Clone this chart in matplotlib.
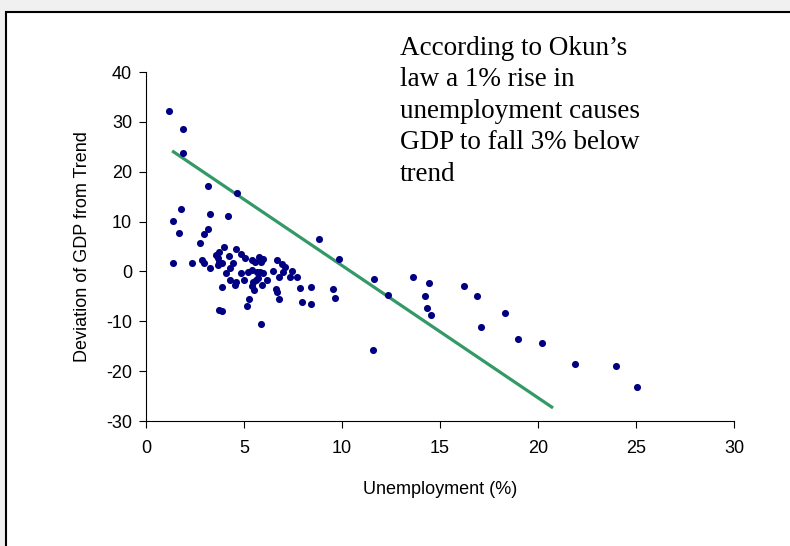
"""
Okun's law scatter: deviation of GDP from trend vs unemployment.
"""
import matplotlib
matplotlib.use("Agg")
import matplotlib.pyplot as plt
from matplotlib.patches import Rectangle

# --- Data ---
unemployment = [
    1.19, 1.87, 1.87, 3.15, 4.66, 1.79, 1.39, 3.27, 4.17, 1.70,
    3.16, 2.96, 2.76, 3.96, 4.58, 1.39, 2.36, 2.86, 2.96, 3.28,
    3.57, 3.74, 3.66, 3.88, 3.74, 4.25, 4.86, 5.04, 4.44, 4.29,
    4.07, 4.86, 4.27, 4.58, 5.02, 5.22, 5.39, 5.56, 5.75, 5.98,
    5.41, 5.65, 5.47, 5.39, 5.49, 5.98, 6.16, 3.88, 5.24, 5.14,
    3.74, 3.88, 5.87, 8.83, 9.85, 11.62, 5.85, 5.61, 6.46, 6.67,
    6.94, 7.11, 7.01, 6.77, 7.46, 7.35, 7.69, 7.86, 8.42, 6.65,
    6.67, 6.77, 7.96, 8.42, 9.54, 9.66, 11.58, 12.33, 13.61, 14.42,
    14.23, 14.32, 14.53, 16.22, 16.90, 18.30, 17.09, 19.00, 20.18, 21.87,
    23.96, 25.07, 3.69, 5.82, 5.73, 5.90, 4.54,
]
gdp_dev = [
    32.1, 28.6, 23.8, 17.2, 15.7, 12.5, 10.2, 11.5, 11.1, 7.8,
    8.6, 7.5, 5.7, 4.9, 4.4, 1.6, 1.6, 2.2, 1.7, 0.7,
    3.3, 3.8, 2.6, 1.7, 1.9, 3.0, 3.4, 2.7, 1.7, 0.7,
    -0.4, -0.4, -1.7, -2.1, -1.7, -0.2, 2.3, 1.9, 2.9, 2.5,
    0.3, -0.2, -2.1, -2.9, -3.7, -0.4, -1.7, -3.1, -5.5, -7.0,
    -7.7, -8.0, -10.6, 6.6, 2.5, -1.5, 1.9, -1.7, 0.0, 2.3,
    1.4, 0.8, -0.2, -1.2, 0.1, -1.1, -1.1, -3.3, -3.1, -3.5,
    -4.2, -5.6, -6.1, -6.6, -3.6, -5.3, -15.7, -4.7, -1.2, -2.4,
    -4.9, -7.4, -8.8, -2.9, -4.9, -8.3, -11.1, -13.6, -14.3, -18.6,
    -19.0, -23.2, 1.3, -0.1, -1.4, -2.7, -2.7,
]

# fitted line (end points)
fit_x = [1.4, 20.7]
fit_y = [24.0, -27.2]

x_ticks = [0, 5, 10, 15, 20, 25, 30]
y_ticks = [-30, -20, -10, 0, 10, 20, 30, 40]

note = "According to Okun\u2019s\nlaw a 1% rise in\nunemployment causes\nGDP to fall 3% below\ntrend"

plt.rcParams["font.family"] = ["Liberation Sans", "DejaVu Sans"]
plt.rcParams["axes.unicode_minus"] = False

fig = plt.figure(figsize=(7.9, 5.46), dpi=100, facecolor="#f0f0f0")

# white panel with black frame (clipped at right/bottom)
fig.patches.append(Rectangle((6 / 790, -0.02), 1.05, 1 - 12 / 546 + 0.02,
                             transform=fig.transFigure, facecolor="white",
                             edgecolor="black", linewidth=1.5, zorder=-5))

ax = fig.add_axes([146 / 790, 1 - 421 / 546, (734 - 146) / 790, (421 - 72) / 546])
ax.set_zorder(2)
ax.set_facecolor("none")

ax.scatter(unemployment, gdp_dev, s=26, color="#000080", zorder=3, linewidths=0)
ax.plot(fit_x, fit_y, color="#339966", linewidth=2.3, zorder=2)

ax.set_xlim(0, 30)
ax.set_ylim(-30, 40)
ax.set_xticks(x_ticks)
ax.set_yticks(y_ticks)
ax.tick_params(direction="out", length=5, width=0.8, labelsize=13, colors="black")
ax.tick_params(axis="x", pad=9)
ax.tick_params(axis="y", pad=5)
for side in ["top", "right"]:
    ax.spines[side].set_visible(False)
for side in ["left", "bottom"]:
    ax.spines[side].set_linewidth(0.8)

ax.set_xlabel("Unemployment (%)", fontsize=13, labelpad=17)
ax.set_ylabel("Deviation of GDP from Trend", fontsize=13, labelpad=11)

fig.text(400 / 790, 1 - 36 / 546, note, family="Liberation Serif",
         fontsize=19.5, va="top", ha="left", linespacing=1.34, zorder=3)

fig.savefig("out.png", dpi=100, facecolor=fig.get_facecolor())
